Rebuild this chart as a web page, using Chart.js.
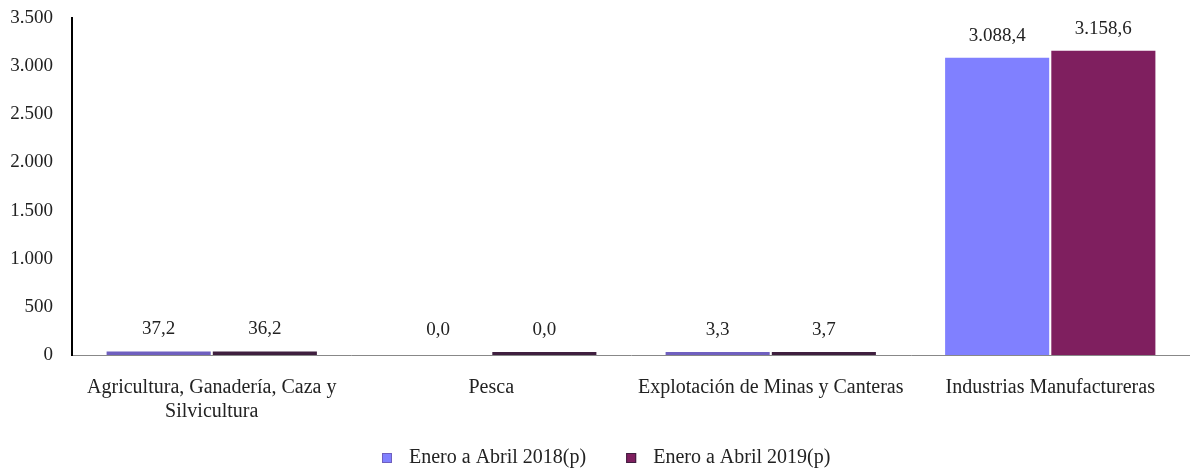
<!DOCTYPE html>
<html>
<head>
<meta charset="utf-8">
<script src="https://cdn.jsdelivr.net/npm/chart.js@4"></script>
<style>
  html, body { margin: 0; padding: 0; background: #fff; }
  #wrap { width: 1190px; height: 472px; }
</style>
</head>
<body>
<div id="wrap"><canvas id="barChart"></canvas></div>
<script>
const categories = [
    ['Agricultura, Ganadería, Caza y', 'Silvicultura'],
    'Pesca',
    'Explotación de Minas y Canteras',
    'Industrias Manufactureras'
];
const seriesNames = ['Enero a Abril 2018(p)', 'Enero a Abril 2019(p)'];
const values2018 = [37.2, 0.0, 3.3, 3088.4];
const values2019 = [36.2, 0.04, 3.7, 3158.6];
const yTicks = [0, 500, 1000, 1500, 2000, 2500, 3000, 3500];

const fill = ['#8080FF', '#7F1F5F'];
const edge = ['#6F5FBF', '#3F1F3F'];
const textColor = '#222';
const fontFamily = '"Liberation Serif", "DejaVu Serif", serif';
const fontSize = 20;
const numSize = 19;

// 3088.4 -> "3.088,4"
function fmt(v, decimals) {
    const parts = v.toFixed(decimals).split('.');
    const int = parts[0].replace(/\B(?=(\d{3})+(?!\d))/g, '.');
    return parts[1] ? int + ',' + parts[1] : int;
}

// value labels above bars
const valueLabels = {
    id: 'valueLabels',
    afterDatasetsDraw(chart) {
        const ctx = chart.ctx;
        ctx.save();
        ctx.font = numSize + 'px ' + fontFamily;
        ctx.fillStyle = textColor;
        ctx.textAlign = 'center';
        ctx.textBaseline = 'middle';
        chart.data.datasets.forEach((ds, i) => {
            chart.getDatasetMeta(i).data.forEach((bar, j) => {
                const top = Math.min(bar.y, bar.base);
                ctx.fillText(fmt(ds.data[j], 1), bar.x, top - 22);
            });
        });
        ctx.restore();
    }
};

// legend at the bottom, spaced like the original
const bottomLegend = {
    id: 'bottomLegend',
    afterDraw(chart) {
        const ctx = chart.ctx;
        const box = 10, gapText = 17, gapItem = 40;
        const y = 458, centre = 606;
        ctx.save();
        ctx.font = fontSize + 'px ' + fontFamily;
        ctx.textBaseline = 'middle';
        const widths = chart.data.datasets.map(ds => ctx.measureText(ds.label).width);
        let total = 0;
        widths.forEach((w, i) => { total += box + gapText + w + (i ? gapItem : 0); });
        let x = Math.round(centre - total / 2);
        chart.data.datasets.forEach((ds, i) => {
            ctx.fillStyle = fill[i];
            ctx.fillRect(x, y - box / 2, box, box);
            ctx.strokeStyle = edge[i];
            ctx.lineWidth = 1;
            ctx.strokeRect(x + 0.5, y - box / 2 + 0.5, box - 1, box - 1);
            ctx.fillStyle = textColor;
            ctx.fillText(ds.label, x + box + gapText, y);
            x += box + gapText + widths[i] + gapItem;
        });
        ctx.restore();
    }
};

function barStyle(idx) {
    const pick = (c) => c.raw === 0 ? 'rgba(0,0,0,0)' : (c.raw < 100 ? edge[idx] : fill[idx]);
    return { backgroundColor: pick, borderColor: pick, borderWidth: 0 };
}

const ctx = document.getElementById('barChart');
new Chart(ctx.getContext('2d'), {
    type: 'bar',
    data: {
        labels: categories,
        datasets: [
            Object.assign({ label: seriesNames[0], data: values2018 }, barStyle(0)),
            Object.assign({ label: seriesNames[1], data: values2019 }, barStyle(1))
        ]
    },
    options: {
        responsive: true,
        maintainAspectRatio: false,
        animation: false,
        categoryPercentage: 0.76,
        barPercentage: 0.98,
        minBarLength: 3,
        layout: { padding: { top: 18, right: 0, bottom: 27, left: 0 } },
        plugins: {
            legend: { display: false },
            tooltip: { enabled: false }
        },
        scales: {
            x: {
                grid: { display: false, drawTicks: false },
                border: { display: true, color: '#888', width: 1 },
                ticks: {
                    color: textColor,
                    font: { family: fontFamily, size: fontSize, lineHeight: 1.2 },
                    padding: 21,
                    maxRotation: 0,
                    autoSkip: false
                }
            },
            y: {
                min: 0,
                max: 3500,
                afterBuildTicks: (scale) => { scale.ticks = yTicks.map(v => ({ value: v })); },
                afterFit: (scale) => {
                    scale.width = 72;
                    scale.paddingTop = 0;
                    scale.paddingBottom = 0;
                },
                grid: { display: false, drawTicks: false },
                border: { display: true, color: '#000', width: 2 },
                ticks: {
                    color: textColor,
                    font: { family: fontFamily, size: numSize },
                    padding: 19,
                    callback: (v) => fmt(v, 0)
                }
            }
        }
    },
    plugins: [valueLabels, bottomLegend]
});
</script>
</body>
</html>
